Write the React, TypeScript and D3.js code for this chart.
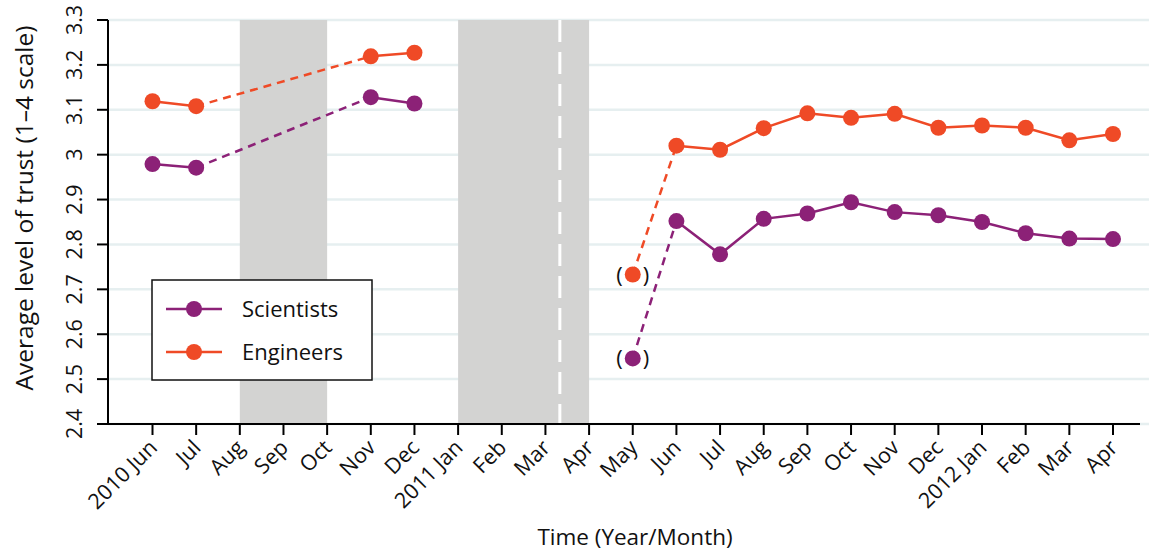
import React from "react";
import * as d3 from "d3";

const months = ["2010 Jun","Jul","Aug","Sep","Oct","Nov","Dec","2011 Jan","Feb","Mar","Apr","May","Jun","Jul","Aug","Sep","Oct","Nov","Dec","2012 Jan","Feb","Mar","Apr"];
const scientists: (number | null)[] = [2.979, 2.971, null, null, null, 3.128, 3.114, null, null, null, null, 2.546, 2.852, 2.778, 2.857, 2.869, 2.894, 2.872, 2.865, 2.850, 2.825, 2.813, 2.812];
const engineers: (number | null)[] = [3.119, 3.108, null, null, null, 3.219, 3.227, null, null, null, null, 2.733, 3.020, 3.011, 3.059, 3.092, 3.082, 3.091, 3.060, 3.065, 3.060, 3.032, 3.046];
const yTicks = [2.4, 2.5, 2.6, 2.7, 2.8, 2.9, 3.0, 3.1, 3.2, 3.3];
const shaded: [number, number][] = [[2, 4], [7, 10]];
const eventIndex = 9.33;
// solid segments [from, to]; dashed connectors
const solidSegs: [number, number][] = [[0, 1], [5, 6], [12, 22]];
const dashedSegs: [number, number][] = [[1, 5], [11, 12]];
const parenIndex = 11;

const series = [
  { name: "Scientists", values: scientists, color: "#8C2177" },
  { name: "Engineers", values: engineers, color: "#EF4A26" },
];

const W = 1149, H = 554;
const FONT = "'Open Sans', 'Noto Sans', sans-serif";

export default function App() {
  const x = d3.scaleLinear().domain([0, months.length - 1]).range([152.5, 1113]);
  const y = d3.scaleLinear().domain([2.4, 3.3]).range([424, 20]);
  const axisX = 108;

  const line = d3.line<[number, number]>().x(d => x(d[0])).y(d => y(d[1]));
  const pts = (vals: (number | null)[], a: number, b: number): [number, number][] => {
    const out: [number, number][] = [];
    for (let i = a; i <= b; i++) if (vals[i] != null) out.push([i, vals[i] as number]);
    return out;
  };

  return (
    <svg width={W} height={H} style={{ position: "absolute", left: 0, top: 0, background: "#fff" }} fontFamily={FONT}>
      {/* grid */}
      {yTicks.map(t => (
        <line key={"g" + t} x1={axisX} x2={W} y1={y(t)} y2={y(t)} stroke="#e6eff0" strokeWidth={2.5} />
      ))}
      {/* shaded */}
      {shaded.map(([a, b], i) => (
        <rect key={"s" + i} x={x(a)} width={x(b) - x(a)} y={y(3.3)} height={y(2.4) - y(3.3)} fill="#d3d3d2" />
      ))}
      <line x1={x(eventIndex)} x2={x(eventIndex)} y1={y(3.3)} y2={y(2.4)} stroke="#fff" strokeWidth={3} strokeDasharray="22,10" />
      {/* axes */}
      <line x1={axisX} x2={axisX} y1={y(3.3)} y2={y(2.4)} stroke="#000" strokeWidth={2} />
      <line x1={axisX - 10} x2={1140} y1={y(2.4)} y2={y(2.4)} stroke="#000" strokeWidth={2} />
      {yTicks.map(t => (
        <g key={"yt" + t}>
          <line x1={axisX - 11} x2={axisX} y1={y(t)} y2={y(t)} stroke="#000" strokeWidth={2} />
          <text transform={`translate(${82},${y(t)}) rotate(-90)`} textAnchor="middle" fontSize={21.5} fill="#111">
            {String(+t.toFixed(1))}
          </text>
        </g>
      ))}
      {months.map((m, i) => (
        <g key={"xt" + i}>
          <line x1={x(i)} x2={x(i)} y1={y(2.4)} y2={y(2.4) + 11} stroke="#000" strokeWidth={2} />
          <text transform={`translate(${x(i) + 6},${y(2.4) + 25}) rotate(-45)`} textAnchor="end" fontSize={21.5} fill="#111">
            {m}
          </text>
        </g>
      ))}
      <text x={635} y={545} textAnchor="middle" fontSize={22.5} fill="#111">Time (Year/Month)</text>
      <text transform={`translate(${33},${208}) rotate(-90)`} textAnchor="middle" fontSize={24.5} fill="#111">
        Average level of trust (1–4 scale)
      </text>
      {/* series */}
      {series.map(s => (
        <g key={s.name}>
          {solidSegs.map(([a, b], i) => (
            <path key={"l" + i} d={line(pts(s.values, a, b)) || ""} fill="none" stroke={s.color} strokeWidth={2.5} />
          ))}
          {dashedSegs.map(([a, b], i) => (
            <path key={"d" + i} d={line(pts(s.values, a, b)) || ""} fill="none" stroke={s.color} strokeWidth={2.5} strokeDasharray="8,6" />
          ))}
          {s.values.map((v, i) => v == null ? null : (
            <circle key={"c" + i} cx={x(i)} cy={y(v)} r={8} fill={s.color} />
          ))}
          {s.values[parenIndex] != null && (
            <g fontSize={22} fill="#111">
              <text x={x(parenIndex) - 10} y={y(s.values[parenIndex] as number) + 8} textAnchor="end">(</text>
              <text x={x(parenIndex) + 10} y={y(s.values[parenIndex] as number) + 8} textAnchor="start">)</text>
            </g>
          )}
        </g>
      ))}
      {/* legend */}
      <rect x={152} y={280} width={220} height={100} fill="#fff" stroke="#111" strokeWidth={1.5} />
      {series.map((s, i) => (
        <g key={"lg" + s.name} transform={`translate(0,${309 + i * 43})`}>
          <line x1={166} x2={222} y1={0} y2={0} stroke={s.color} strokeWidth={2.5} />
          <circle cx={194} cy={0} r={8} fill={s.color} />
          <text x={242} y={8} fontSize={22} fill="#111">{s.name}</text>
        </g>
      ))}
    </svg>
  );
}
